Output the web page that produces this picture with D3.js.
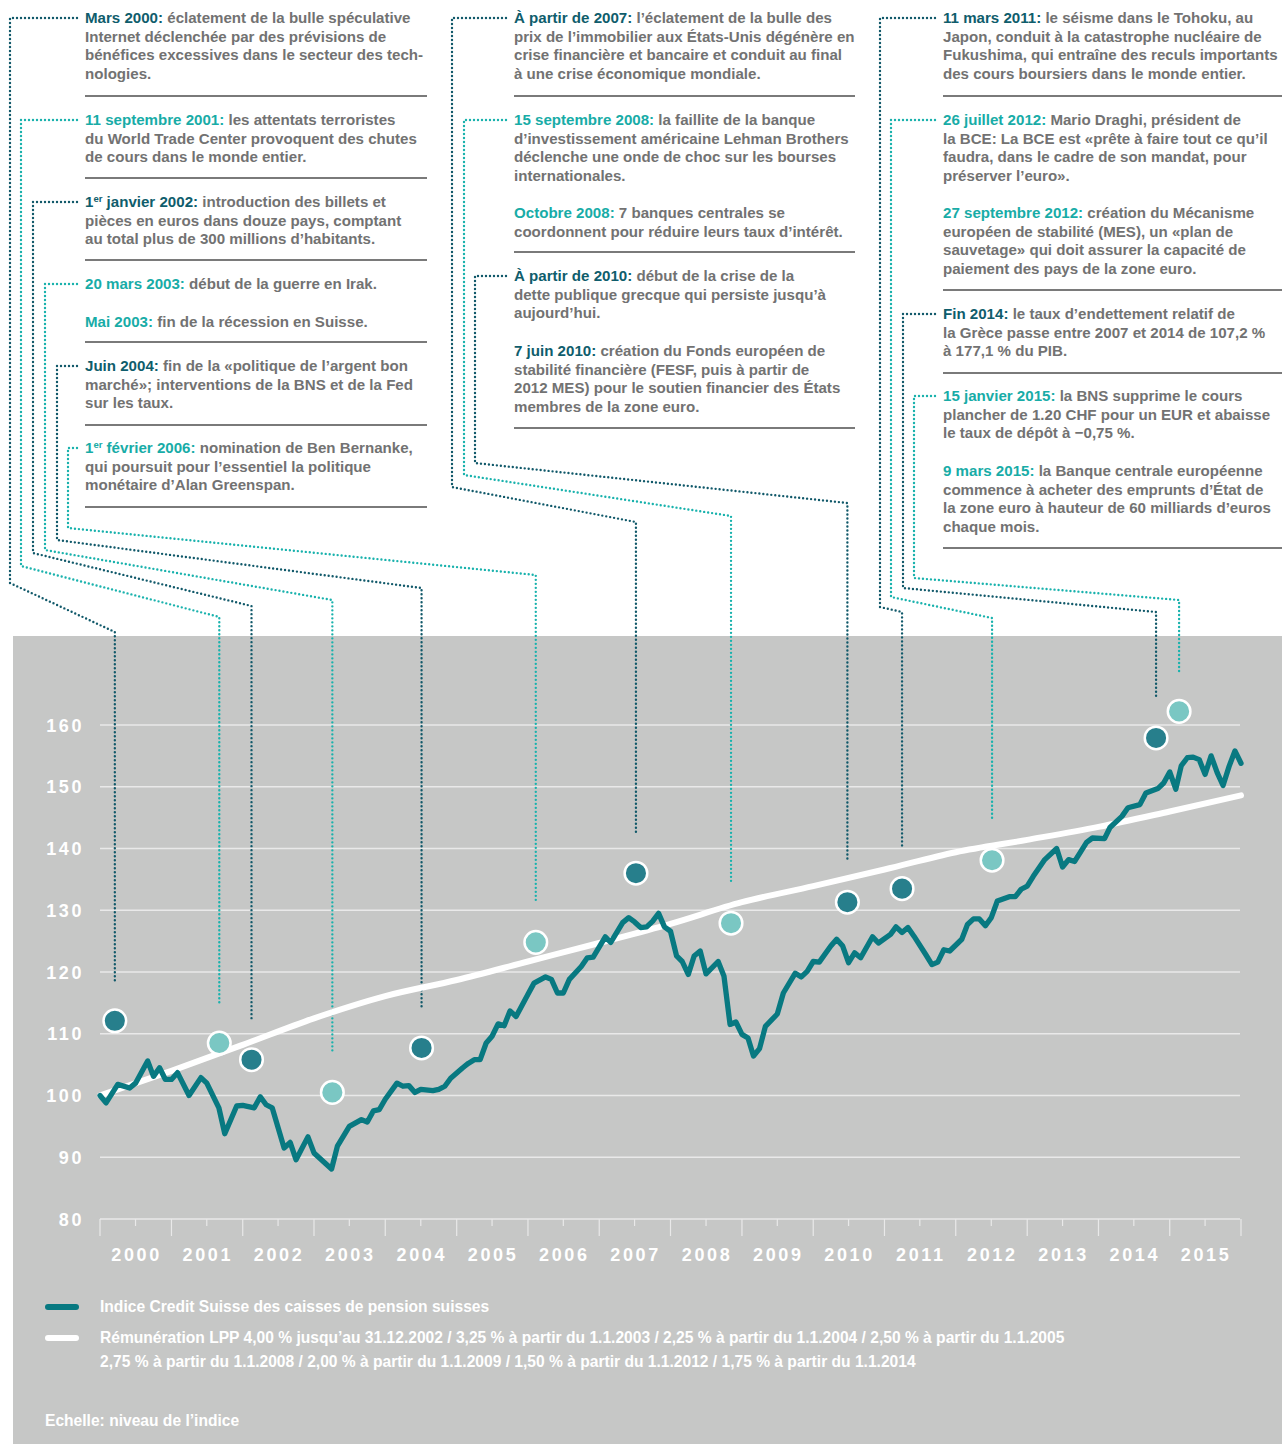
<!DOCTYPE html>
<html><head><meta charset="utf-8">
<script src="https://cdn.jsdelivr.net/npm/d3@7"></script>
<style>
body{margin:0;background:#fff;}
svg{display:block;}
text{font-family:"Liberation Sans",Arial,Helvetica,sans-serif;}
</style></head><body>
<svg id="chart" width="1282" height="1444"></svg>
<script>
// ---------------- DATA ----------------
// Credit Suisse pension fund index, month-end values (Dec 1999 = 100)
const indexMonths = ["1999-12","2000-01","2000-03","2000-05","2000-06","2000-08","2000-09","2000-10","2000-11","2000-12",
"2001-01","2001-03","2001-05","2001-06","2001-08","2001-09","2001-11","2001-12",
"2002-02","2002-03","2002-04","2002-05","2002-07","2002-08","2002-09","2002-11","2002-12",
"2003-02","2003-03","2003-04","2003-06","2003-08","2003-09","2003-10","2003-11","2003-12",
"2004-02","2004-03","2004-04","2004-05","2004-06","2004-08","2004-09","2004-10","2004-11",
"2005-01","2005-02","2005-03","2005-04","2005-05","2005-06","2005-07","2005-08","2005-09","2005-10","2005-12",
"2006-01","2006-03","2006-04","2006-05","2006-06","2006-07","2006-09","2006-10","2006-11",
"2007-01","2007-02","2007-04","2007-05","2007-06","2007-07","2007-08","2007-09","2007-10","2007-11","2007-12",
"2008-01","2008-02","2008-03","2008-04","2008-05","2008-06","2008-08","2008-09","2008-10","2008-11","2008-12",
"2009-01","2009-02","2009-03","2009-04","2009-06","2009-07","2009-09","2009-10","2009-11","2009-12",
"2010-01","2010-03","2010-04","2010-05","2010-06","2010-07","2010-08","2010-10","2010-11",
"2011-01","2011-02","2011-03","2011-04","2011-05","2011-07","2011-08","2011-09","2011-10","2011-11",
"2012-01","2012-02","2012-03","2012-04","2012-05","2012-06","2012-07","2012-09","2012-10","2012-11","2012-12",
"2013-01","2013-03","2013-05","2013-06","2013-07","2013-08","2013-10","2013-11",
"2014-01","2014-02","2014-04","2014-05","2014-07","2014-08","2014-10","2014-11","2014-12",
"2015-01","2015-02","2015-03","2015-04","2015-05","2015-06","2015-07","2015-08","2015-09","2015-10","2015-11","2015-12"];
const indexValues = [100.0,98.8,101.8,101.2,102.0,105.6,103.1,104.5,102.6,102.6,
103.7,100.0,102.9,102.0,98.0,93.8,98.3,98.4,
98.0,99.8,98.5,98.0,91.5,92.4,89.6,93.3,90.7,
89.0,88.1,91.8,95.0,96.1,95.7,97.5,97.7,99.4,
102.0,101.5,101.6,100.5,101.0,100.8,101.0,101.5,102.8,
104.5,105.2,105.8,105.8,108.5,109.6,111.6,111.3,113.7,112.8,116.4,
118.2,119.2,118.8,116.6,116.6,118.8,120.9,122.3,122.4,
125.7,124.8,128.0,128.8,128.1,127.2,127.3,128.2,129.5,127.3,126.6,
122.6,121.7,119.6,122.6,123.4,119.7,121.7,119.3,111.5,111.9,109.9,
109.3,106.4,107.6,111.2,113.2,116.6,119.8,119.2,120.1,121.7,
121.6,124.2,125.3,124.2,121.5,123.1,122.3,125.7,124.7,
126.1,127.3,126.4,127.2,125.8,122.8,121.2,121.6,123.6,123.4,
125.3,127.7,128.6,128.6,127.5,128.8,131.5,132.2,132.2,133.4,133.9,
135.5,138.2,140.0,137.0,138.2,137.9,141.0,141.7,
141.6,143.4,145.2,146.6,147.1,149.0,149.7,150.6,152.4,
149.6,153.4,154.7,154.8,154.4,152.0,155.0,152.3,150.2,153.3,155.8,153.8];

// BVG / LPP minimum interest, year-end level
const lppMonths = ["1999-12","2000-12","2001-12","2002-12","2003-12","2004-12","2005-12","2006-12","2007-12","2008-12","2009-12","2010-12","2011-12","2012-12","2013-12","2014-12","2015-12"];
const lppValues = [100,104.0,108.2,112.5,116.1,118.7,121.7,124.7,127.8,131.3,133.9,136.6,139.4,141.4,143.5,146.0,148.6];

const yTicks = [80,90,100,110,120,130,140,150,160];
const yearLabels = ["2000","2001","2002","2003","2004","2005","2006","2007","2008","2009","2010","2011","2012","2013","2014","2015"];

// event markers
const eventDates  = ["2000-03-17","2001-09-03","2002-02-15","2003-04-05","2004-07-05","2006-02-10","2007-07-08","2008-11-06","2010-06-25","2011-04-01","2012-07-05","2014-10-23","2015-02-18"];
const eventValues = [112.1,108.5,105.8,100.5,107.7,124.8,136.0,127.9,131.3,133.5,138.1,157.9,162.2];
const eventTones  = ["dark","light","dark","light","dark","light","dark","light","dark","dark","light","dark","light"];

// annotation texts: [column, tone, heading parts, rest of first line, following lines]
const notes = [
 [0,"dark",["Mars 2000:"]," éclatement de la bulle spéculative",["Internet déclenchée par des prévisions de","bénéfices excessives dans le secteur des tech-","nologies."]],
 [0,"light",["11 septembre 2001:"]," les attentats terroristes",["du World Trade Center provoquent des chutes","de cours dans le monde entier."]],
 [0,"dark",["1","er"," janvier 2002:"]," introduction des billets et",["pièces en euros dans douze pays, comptant","au total plus de 300 millions d’habitants."]],
 [0,"light",["20 mars 2003:"]," début de la guerre en Irak.",[]],
 [0,"light",["Mai 2003:"]," fin de la récession en Suisse.",[]],
 [0,"dark",["Juin 2004:"]," fin de la «politique de l’argent bon",["marché»; interventions de la BNS et de la Fed","sur les taux."]],
 [0,"light",["1","er"," février 2006:"]," nomination de Ben Bernanke,",["qui poursuit pour l’essentiel la politique","monétaire d’Alan Greenspan."]],
 [1,"dark",["À partir de 2007:"]," l’éclatement de la bulle des",["prix de l’immobilier aux États-Unis dégénère en","crise financière et bancaire et conduit au final","à une crise économique mondiale."]],
 [1,"light",["15 septembre 2008:"]," la faillite de la banque",["d’investissement américaine Lehman Brothers","déclenche une onde de choc sur les bourses","internationales."]],
 [1,"light",["Octobre 2008:"]," 7 banques centrales se",["coordonnent pour réduire leurs taux d’intérêt."]],
 [1,"dark",["À partir de 2010:"]," début de la crise de la",["dette publique grecque qui persiste jusqu’à","aujourd’hui."]],
 [1,"dark",["7 juin 2010:"]," création du Fonds européen de",["stabilité financière (FESF, puis à partir de","2012 MES) pour le soutien financier des États","membres de la zone euro."]],
 [2,"dark",["11 mars 2011:"]," le séisme dans le Tohoku, au",["Japon, conduit à la catastrophe nucléaire de","Fukushima, qui entraîne des reculs importants","des cours boursiers dans le monde entier."]],
 [2,"light",["26 juillet 2012:"]," Mario Draghi, président de",["la BCE: La BCE est «prête à faire tout ce qu’il","faudra, dans le cadre de son mandat, pour","préserver l’euro»."]],
 [2,"light",["27 septembre 2012:"]," création du Mécanisme",["européen de stabilité (MES), un «plan de","sauvetage» qui doit assurer la capacité de","paiement des pays de la zone euro."]],
 [2,"dark",["Fin 2014:"]," le taux d’endettement relatif de",["la Grèce passe entre 2007 et 2014 de 107,2 %","à 177,1 % du PIB."]],
 [2,"light",["15 janvier 2015:"]," la BNS supprime le cours",["plancher de 1.20 CHF pour un EUR et abaisse","le taux de dépôt à −0,75 %."]],
 [2,"light",["9 mars 2015:"]," la Banque centrale européenne",["commence à acheter des emprunts d’État de","la zone euro à hauteur de 60 milliards d’euros","chaque mois."]]
];
const legendLabels = ["Indice Credit Suisse des caisses de pension suisses",
 "Rémunération LPP 4,00 % jusqu’au 31.12.2002 / 3,25 % à partir du 1.1.2003 / 2,25 % à partir du 1.1.2004 / 2,50 % à partir du 1.1.2005",
 "2,75 % à partir du 1.1.2008 / 2,00 % à partir du 1.1.2009 / 1,50 % à partir du 1.1.2012 / 1,75 % à partir du 1.1.2014",
 "Echelle: niveau de l’indice"];

// ---------------- LAYOUT ----------------
const noteTop = [18,120,202,284,322,366,448, 18,120,213,276,351, 18,120,213,314,396,471];
const colX = [85,514,943];
const colRuleEnd = [427,855,1282];
const rules = [[0,96],[0,178],[0,260],[0,342],[0,425],[0,507],[1,96],[1,252],[1,428],[2,96],[2,290],[2,373],[2,548]];
// connector layout for each event: [heading note index, left x, bend y, diagonal end y]
const connectors = [[0,10,583,632],[1,21,566,617],[2,33,553,606],[3,45,550,600],[5,57,540,588],[6,68,528,575],
 [7,452,487,522],[8,464,475,516],[10,475,463,503],
 [12,880,607,612],[13,891,597,618],[15,903,588,612],[16,914,578,600]];

const C = {bg:"#c6c7c6", grid:"#e9e9e9", line:"#087981", dark:"#277f8c", light:"#7ac7c3",
 headDark:"#0f5d6c", headLight:"#18aca7", body:"#727272", rule:"#7a7a7a",
 dotDark:"#11596a", dotLight:"#19b2ad"};
const LH = 18.7;
const FS = 15.1;
const FSL = 15.6;

const svg = d3.select("#chart");
const parseM = d3.timeParse("%Y-%m");
const monthEnd = s => d3.timeMonth.offset(parseM(s),1);
const parseD = d3.timeParse("%Y-%m-%d");

const x = d3.scaleTime().domain([new Date(2000,0,1), new Date(2016,0,1)]).range([100,1241]);
const y = d3.scaleLinear().domain([80,160]).range([1219,725]);

// background
svg.append("rect").attr("x",13).attr("y",636).attr("width",1282-13).attr("height",1444-636).attr("fill",C.bg);

// grid
svg.append("g").selectAll("line").data(yTicks).join("line")
 .attr("x1",100).attr("x2",1240).attr("y1",d=>y(d)).attr("y2",d=>y(d))
 .attr("stroke",C.grid).attr("stroke-width",1.5);
svg.append("g").selectAll("text").data(yTicks).join("text")
 .attr("x",84).attr("y",d=>y(d)+6.5).attr("text-anchor","end")
 .attr("fill","#fff").attr("font-size",18).attr("font-weight","bold").attr("letter-spacing",2.6)
 .text(d=>d);

// x axis ticks
const years = d3.range(2000,2017);
svg.append("g").selectAll("line").data(years).join("line")
 .attr("x1",d=>x(new Date(d,0,1))).attr("x2",d=>x(new Date(d,0,1)))
 .attr("y1",1219).attr("y2",1236).attr("stroke",C.grid).attr("stroke-width",1.2);
svg.append("g").selectAll("line").data(years.slice(0,-1)).join("line")
 .attr("x1",d=>x(new Date(d,6,1))).attr("x2",d=>x(new Date(d,6,1)))
 .attr("y1",1219).attr("y2",1226).attr("stroke",C.grid).attr("stroke-width",1.2);
svg.append("g").selectAll("text").data(yearLabels).join("text")
 .attr("x",d=>x(new Date(+d,6,1))+1).attr("y",1261).attr("text-anchor","middle")
 .attr("fill","#fff").attr("font-size",18).attr("font-weight","bold").attr("letter-spacing",2.6)
 .text(d=>d);

// connectors
const dotAttrs = sel => sel.attr("fill","none").attr("stroke-width",2.4).attr("stroke-linecap","round").attr("stroke-dasharray","0 4");
connectors.forEach((c,i)=>{
  const [ni,lx,by,dy] = c;
  const col = notes[ni][0];
  const hy = noteTop[ni];
  const cx = x(parseD(eventDates[i])), cy = y(eventValues[i]);
  const p = d3.path();
  p.moveTo(colX[col]-8, hy);
  p.lineTo(lx, hy); p.lineTo(lx, by); p.lineTo(cx, dy); p.lineTo(cx, cy-40);
  svg.append("path").attr("d",p.toString())
   .attr("stroke", eventTones[i]==="dark"?C.dotDark:C.dotLight).call(dotAttrs);
});

// LPP line
const lppData = lppMonths.map((m,i)=>({d:monthEnd(m),v:lppValues[i]}));
svg.append("path").datum(lppData)
 .attr("d",d3.line().x(d=>x(d.d)).y(d=>y(d.v)).curve(d3.curveMonotoneX))
 .attr("fill","none").attr("stroke","#fff").attr("stroke-width",6).attr("stroke-linecap","round");

// index line
const idxData = indexMonths.map((m,i)=>({d:monthEnd(m),v:indexValues[i]}));
svg.append("path").datum(idxData)
 .attr("d",d3.line().x(d=>x(d.d)).y(d=>y(d.v)))
 .attr("fill","none").attr("stroke",C.line).attr("stroke-width",5.3)
 .attr("stroke-linejoin","round").attr("stroke-linecap","round");

// event circles
svg.append("g").selectAll("circle").data(eventDates).join("circle")
 .attr("cx",d=>x(parseD(d))).attr("cy",(d,i)=>y(eventValues[i])).attr("r",11.3)
 .attr("fill",(d,i)=>eventTones[i]==="dark"?C.dark:C.light)
 .attr("stroke","#fff").attr("stroke-width",2.5);

// rules under annotation blocks
svg.append("g").selectAll("line").data(rules).join("line")
 .attr("x1",d=>colX[d[0]]).attr("x2",d=>colRuleEnd[d[0]])
 .attr("y1",d=>d[1]).attr("y2",d=>d[1]).attr("stroke",C.rule).attr("stroke-width",2);

// annotation texts
notes.forEach((n,i)=>{
  const [col,tone,head,rest,more] = n;
  const t = svg.append("text").attr("x",colX[col]).attr("y",noteTop[i]+5)
    .attr("font-size",FS).attr("font-weight","bold").attr("fill",C.body);
  const hc = tone==="dark"?C.headDark:C.headLight;
  if(head.length===3){
    t.append("tspan").attr("fill",hc).text(head[0]);
    t.append("tspan").attr("fill",hc).attr("font-size",9.5).attr("dy",-5).text(head[1]);
    t.append("tspan").attr("fill",hc).attr("dy",5).text(head[2]);
  } else {
    t.append("tspan").attr("fill",hc).text(head[0]);
  }
  t.append("tspan").text(rest);
  more.forEach((l,j)=>{
    svg.append("text").attr("x",colX[col]).attr("y",noteTop[i]+5+LH*(j+1))
     .attr("font-size",FS).attr("font-weight","bold").attr("fill",C.body).text(l);
  });
});

// legend
svg.append("line").attr("x1",48).attr("x2",76).attr("y1",1307).attr("y2",1307)
 .attr("stroke",C.line).attr("stroke-width",6).attr("stroke-linecap","round");
svg.append("line").attr("x1",48).attr("x2",76).attr("y1",1338).attr("y2",1338)
 .attr("stroke","#fff").attr("stroke-width",6).attr("stroke-linecap","round");
const legPos = [[100,1312],[100,1343],[100,1367],[45,1426]];
svg.append("g").selectAll("text").data(legendLabels).join("text")
 .attr("x",(d,i)=>legPos[i][0]).attr("y",(d,i)=>legPos[i][1])
 .attr("font-size",FSL).attr("font-weight","bold").attr("fill","#fff")
 .text(d=>d);
</script>
</body></html>
